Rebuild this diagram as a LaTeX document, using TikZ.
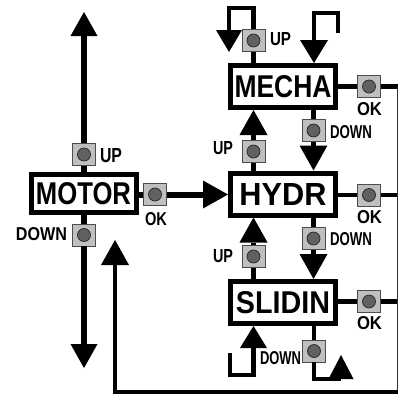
\documentclass[tikz,border=0pt]{standalone}
\usepackage{fontspec}
\setmainfont{Liberation Sans}
\usetikzlibrary{arrows.meta}
\newcommand\bigt[2]{\resizebox{#1}{22pt}{\bfseries #2}}
\newcommand\lbl[3][13pt]{\resizebox{#2}{#1}{\bfseries #3}}
\begin{document}
\begin{tikzpicture}[x=1pt,y=-1pt,
  box/.style={draw, line width=5pt, minimum width=105pt, minimum height=42pt, inner sep=0pt, fill=white},
  btn/.style={draw=black!70, line width=0.8pt, fill=black!25, minimum width=23pt, minimum height=22pt, inner sep=0pt,
    path picture={\fill[black!62, draw=black!85, line width=0.7pt] (path picture bounding box.center) circle (6.5pt);}},
  lab/.style={inner sep=0pt},
  conn/.style={line width=4.5pt},
  heavy/.style={line width=6pt},
  ret/.style={line width=4pt},
  hair/.style={line width=1.3pt, draw=black!80},
  arr/.style={-{Triangle[length=25pt,width=28pt,line width=0pt]}},
  bigarr/.style={-{Triangle[length=24pt,width=27pt,line width=0pt]}}
]
\useasboundingbox (0,0) rectangle (399,394);
\fill[white] (0,0) rectangle (399,394);

% boxes
\node[box, minimum height=38pt] (motor) at (83.5,193.5) {\bigt{95pt}{MOTOR}};
\node[box] (mecha) at (283,86.5) {\bigt{97pt}{MECHA}};
\node[box] (hydr) at (283,194) {\bigt{87pt}{HYDR}};
\node[box] (slidin) at (283,302.5) {\bigt{94pt}{SLIDIN}};

% buttons
\node[btn] (mup) at (84,154.5) {};
\node[btn] (mdn) at (84,235) {};
\node[btn] (mok) at (155,194.5) {};
\node[btn] (tup) at (253.5,40.5) {};
\node[btn] (eok) at (369,86.5) {};
\node[btn] (edn) at (313.5,130.5) {};
\node[btn] (hup) at (253.5,151.5) {};
\node[btn] (hok) at (369,195) {};
\node[btn] (hdn) at (313.5,238.5) {};
\node[btn] (sup) at (253.5,256.5) {};
\node[btn] (sok) at (369,301.5) {};
\node[btn] (sdn) at (314,351) {};

% coordinates
\coordinate (topt) at (84,12);
\coordinate (bott) at (84,368);
\coordinate (h1) at (253.5,8);
\coordinate (h2) at (229,8);
\coordinate (h3) at (229,52);
\coordinate (r0) at (338,33);
\coordinate (r1) at (338,13);
\coordinate (r2) at (314,13);
\coordinate (e1) at (397.5,86.5);
\coordinate (e2) at (397.5,195);
\coordinate (e3) at (397.5,301.5);
\coordinate (rb) at (397.5,392);
\coordinate (lb) at (115,392);
\coordinate (lt) at (115,240);
\coordinate (b1) at (230,353);
\coordinate (b2) at (230,375);
\coordinate (b3) at (253.5,375);
\coordinate (c1) at (314,379);
\coordinate (c2) at (341,379);
\coordinate (c3) at (341,355);

% MOTOR
\draw[heavy] (mup) -- (mup |- motor.north);
\draw[heavy,bigarr] (mup) -- (topt);
\draw[heavy] (mdn) -- (mdn |- motor.south);
\draw[heavy,bigarr] (mdn) -- (bott);
\draw[heavy] (motor.east |- mok) -- (mok);
\draw[heavy,arr] (mok) -- (hydr.west |- mok);

% MECHA top
\draw[conn] (tup) -- (tup |- mecha.north);
\draw[conn,-{Triangle[length=22pt,width=26pt,line width=0pt]}] (tup.north) -- (h1) -- (h2) -- (h3);
\draw[conn,-{Triangle[length=23pt,width=28pt,line width=0pt]}] (r0) -- (r1) -- (r2) -- (r2 |- mecha.north);

% OK lines
\draw[conn] (mecha.east |- eok) -- (eok);
\draw[conn] (eok) -- (e1);
\draw[conn] (hydr.east |- hok) -- (hok);
\draw[conn] (hok) -- (e2);
\draw[conn] (slidin.east |- sok) -- (sok);
\draw[conn] (sok) -- (e3);
\draw[hair] (e1) -- (rb);
\draw[ret,arr] (rb) -- (lb) -- (lt);

% between boxes
\draw[conn] (mecha.south -| edn) -- (edn);
\draw[conn,arr] (edn) -- (edn |- hydr.north);
\draw[conn] (hydr.north -| hup) -- (hup);
\draw[conn,arr] (hup) -- (hup |- mecha.south);
\draw[conn] (hydr.south -| hdn) -- (hdn);
\draw[conn,arr] (hdn) -- (hdn |- slidin.north);
\draw[conn] (slidin.north -| sup) -- (sup);
\draw[conn,arr] (sup) -- (sup |- hydr.south);

% SLIDIN bottom
\draw[conn,-{Triangle[length=22pt,width=27pt,line width=0pt]}] (b1) -- (b2) -- (b3) -- (b3 |- slidin.south);
\draw[conn] (slidin.south -| sdn) -- (sdn);
\draw[conn] (sdn) -- (c1) -- (c2);
\draw[conn,-{Triangle[length=24pt,width=25pt,line width=0pt]}] (c2) -- (c3);

% labels
\node[lab] (lmup) at (111,155.5) {\lbl[14pt]{22pt}{UP}};
\node[lab] (lmdn) at (41.5,234) {\lbl{51pt}{DOWN}};
\node[lab] (lmok) at (156,219) {\lbl{22pt}{OK}};
\node[lab] (ltup) at (280.5,39) {\lbl{21pt}{UP}};
\node[lab] (leok) at (369.5,109.5) {\lbl{25pt}{OK}};
\node[lab] (ledn) at (351,132.5) {\lbl{42pt}{DOWN}};
\node[lab] (lhup) at (223,148.5) {\lbl{20pt}{UP}};
\node[lab] (lhok) at (369.5,217.5) {\lbl{25pt}{OK}};
\node[lab] (lhdn) at (351,239) {\lbl{42pt}{DOWN}};
\node[lab] (lsup) at (223,256.5) {\lbl{20pt}{UP}};
\node[lab] (lsok) at (369.5,323.5) {\lbl{25pt}{OK}};
\node[lab] (lsdn) at (280.5,358.5) {\lbl{41pt}{DOWN}};
\end{tikzpicture}
\end{document}
